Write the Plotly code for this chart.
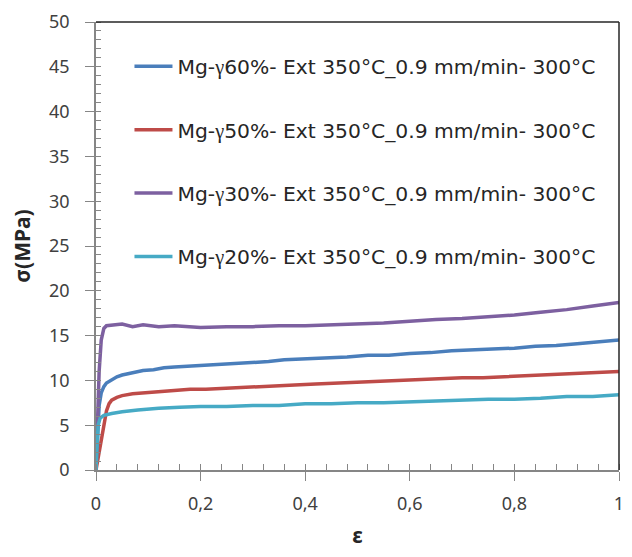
import plotly.graph_objects as go

# strain / stress
strain_60 = [0, 0.003, 0.006, 0.01, 0.015, 0.02, 0.03, 0.04, 0.05, 0.07, 0.09, 0.11, 0.13, 0.15, 0.18,
             0.21, 0.24, 0.27, 0.30, 0.33, 0.36, 0.40, 0.44, 0.48, 0.52, 0.56, 0.60, 0.64, 0.68,
             0.72, 0.76, 0.80, 0.84, 0.88, 0.92, 0.96, 1.0]
stress_60 = [0, 4.5, 7.2, 8.6, 9.3, 9.7, 10.1, 10.4, 10.6, 10.9, 11.1, 11.2, 11.4, 11.5, 11.6,
             11.7, 11.8, 11.9, 12.0, 12.1, 12.3, 12.4, 12.5, 12.6, 12.8, 12.8, 13.0, 13.1, 13.3,
             13.4, 13.5, 13.6, 13.8, 13.9, 14.1, 14.3, 14.5]

strain_50 = [0, 0.005, 0.01, 0.015, 0.02, 0.025, 0.03, 0.04, 0.05, 0.07, 0.09, 0.11, 0.13, 0.15,
             0.18, 0.21, 0.24, 0.27, 0.30, 0.34, 0.38, 0.42, 0.46, 0.50, 0.54, 0.58, 0.62, 0.66,
             0.70, 0.74, 0.78, 0.82, 0.86, 0.90, 0.95, 1.0]
stress_50 = [0, 1.8, 3.6, 5.3, 6.6, 7.4, 7.8, 8.1, 8.3, 8.5, 8.6, 8.7, 8.8, 8.9,
             9.0, 9.0, 9.1, 9.2, 9.3, 9.4, 9.5, 9.6, 9.7, 9.8, 9.9, 10.0, 10.1, 10.2,
             10.3, 10.3, 10.4, 10.5, 10.6, 10.7, 10.9, 11.0]

strain_30 = [0, 0.003, 0.006, 0.01, 0.015, 0.02, 0.03, 0.05, 0.07, 0.09, 0.12, 0.15, 0.2, 0.25,
             0.3, 0.35, 0.4, 0.45, 0.5, 0.55, 0.6, 0.65, 0.7, 0.75, 0.8, 0.85, 0.9, 0.95, 1.0]
stress_30 = [0, 6.0, 11.0, 14.5, 15.8, 16.1, 16.2, 16.3, 16.0, 16.2, 16.0, 16.1, 15.9, 16.0,
             16.0, 16.1, 16.1, 16.2, 16.3, 16.4, 16.6, 16.8, 16.9, 17.1, 17.3, 17.6, 17.9, 18.3, 18.7]

strain_20 = [0, 0.002, 0.004, 0.008, 0.015, 0.03, 0.05, 0.08, 0.12, 0.16, 0.2, 0.25, 0.3, 0.35,
             0.4, 0.45, 0.5, 0.55, 0.6, 0.65, 0.7, 0.75, 0.8, 0.85, 0.9, 0.95, 1.0]
stress_20 = [0, 3.5, 5.0, 5.8, 6.1, 6.3, 6.5, 6.7, 6.9, 7.0, 7.1, 7.1, 7.2, 7.2,
             7.4, 7.4, 7.5, 7.5, 7.6, 7.7, 7.8, 7.9, 7.9, 8.0, 8.2, 8.2, 8.4]

labels = ["60%", "50%", "30%", "20%"]
colors = ["#4A7EBB", "#BE4B48", "#7D60A0", "#46AAC5"]
series = [(strain_60, stress_60), (strain_50, stress_50), (strain_30, stress_30), (strain_20, stress_20)]

fig = go.Figure()
for i, (xs, ys) in enumerate(series):
    name = ('Mg-<span style="font-family:Liberation Serif">γ</span>'
            f"{labels[i]}- Ext 350°C_0.9 mm/min- 300°C")
    fig.add_trace(go.Scatter(x=xs, y=ys, mode="lines", name=name, legendgroup=str(i),
                             line=dict(color=colors[i], width=3.5)))

axis_gray = "#868686"
# page body has an 8px margin, so the figure is sized/offset to compensate
fig.update_layout(
    width=616, height=541,
    margin=dict(l=88, r=5, t=14, b=79),
    plot_bgcolor="white", paper_bgcolor="white",
    separators=",.",
    font=dict(family="Noto Sans", size=18, color="#404040"),
    legend=dict(x=0.064, y=0.945, xanchor="left", yanchor="top", bgcolor="rgba(0,0,0,0)",
                itemwidth=38, tracegroupgap=34,
                font=dict(family="DejaVu Sans", size=20.3, color="#262626")),
    shapes=[
        dict(type="line", xref="paper", yref="paper", x0=0, x1=1, y0=1, y1=1,
             line=dict(color="#262626", width=1.5)),
        dict(type="line", xref="paper", yref="paper", x0=1, x1=1, y0=0, y1=1,
             line=dict(color="#262626", width=1.5)),
    ],
)
fig.update_xaxes(
    range=[0, 1], tick0=0, dtick=0.2, showgrid=False, zeroline=False, automargin=False,
    showline=True, linecolor=axis_gray, linewidth=1.5, ticklabeloverflow="allow",
    ticks="outside", ticklen=9, tickcolor=axis_gray, ticklabelstandoff=8,
    minor=dict(ticks="inside", ticklen=6, dtick=0.04, tickcolor=axis_gray, showgrid=False),
    title=dict(text="<b>ε</b>", font=dict(size=21, color="#262626"), standoff=21),
)
fig.update_yaxes(
    range=[0, 50], tick0=0, dtick=5, showgrid=False, zeroline=False, automargin=False,
    showline=True, linecolor=axis_gray, linewidth=1.5, ticklabeloverflow="allow",
    ticks="outside", ticklen=9, tickcolor=axis_gray, ticklabelstandoff=12,
    minor=dict(ticks="inside", ticklen=5, dtick=1, tickcolor=axis_gray, showgrid=False),
    title=dict(text="<b>σ(MPa)</b>", font=dict(size=21, color="#262626"), standoff=14),
)

fig.write_html("out.html")
